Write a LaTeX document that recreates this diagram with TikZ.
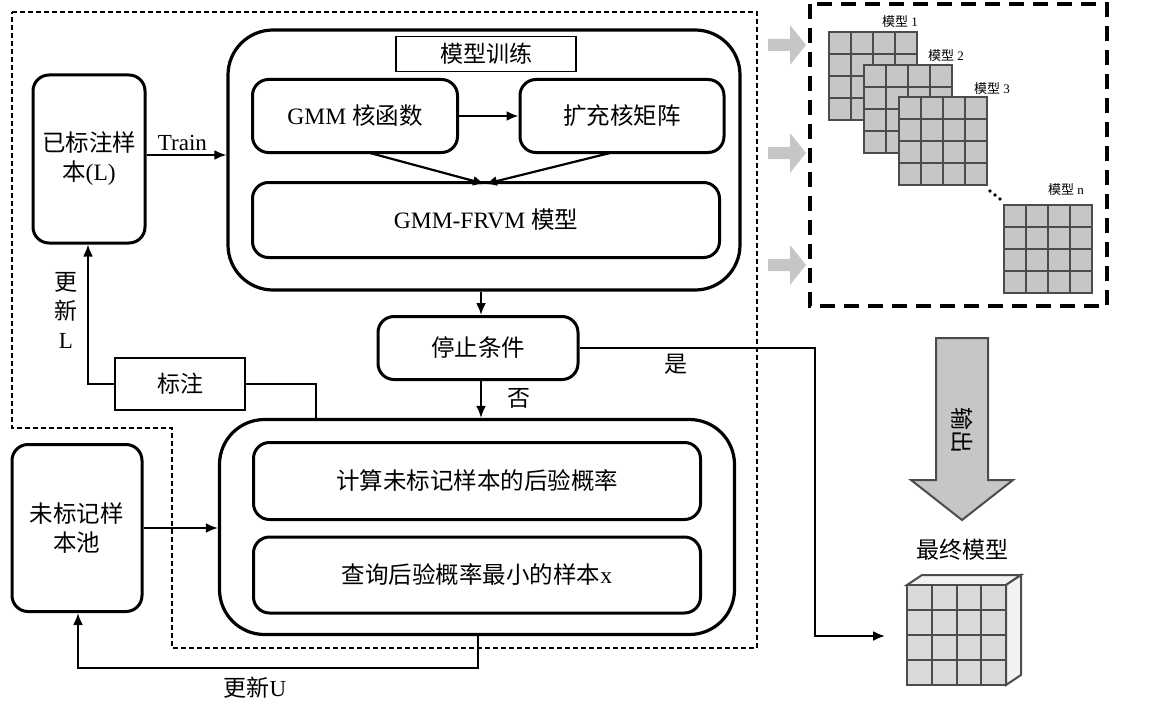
\documentclass[tikz,border=0pt]{standalone}
\usepackage{fontspec}
\setmainfont{Liberation Serif}
\newfontfamily\cjk{Noto Sans CJK SC}
\usetikzlibrary{arrows.meta}
\begin{document}
\begin{tikzpicture}[x=1pt,y=-1pt,
  box/.style={draw,line width=3pt,rounded corners=16pt,align=center,font=\fontsize{23.5}{29}\selectfont},
  big/.style={draw,line width=3.2pt,rounded corners=45pt},
  conn/.style={line width=2.2pt,-{Latex[length=12pt,width=10pt]}},
  line/.style={line width=2.2pt},
  lbl/.style={font=\fontsize{23}{29}\selectfont},
  cell/.style={fill=gray!45,draw=black!70,line width=2pt},
  garrow/.style={fill=gray!45,draw=none}]
\useasboundingbox (0,0) rectangle (1176,701);
% dashed regions
\draw[line width=1.8pt,dash pattern=on 5pt off 3pt] (12,12) -- (757,12) -- (757,648) -- (172,648) -- (172,428) -- (12,428) -- cycle;
\draw[line width=3.2pt,dash pattern=on 15pt off 9pt] (810,4) rectangle (1107,306);
% containers
\node[big,minimum width=512pt,minimum height=260pt] (train) at (484,160) {};
\node[draw,line width=1.8pt,minimum width=180pt,minimum height=35pt,lbl] (title) at (486,54) {\cjk 模型训练};
\node[box,minimum width=205pt,minimum height=73pt] (gmm) at (355,116) {GMM {\cjk 核函数}};
\node[box,minimum width=204pt,minimum height=73pt] (ext) at (622,116) {\cjk 扩充核矩阵};
\node[box,minimum width=467pt,minimum height=75pt] (frvm) at (486,220) {GMM-FRVM {\cjk 模型}};
\draw[conn] (gmm) -- (ext);
\coordinate (m) at (485,184);
\draw[conn] (370,153) -- (m);
\draw[conn] (610,153) -- (m);
\node[box,minimum width=112pt,minimum height=168pt] (L) at (89,159) {{\cjk 已标注样}\\{\cjk 本}(L)};
\draw[conn] (L.east |- 0,155) -- node[above,lbl,pos=0.45] {Train} (train.west |- 0,155);
\node[box,minimum width=200pt,minimum height=63pt] (stop) at (478,348) {\cjk 停止条件};
\draw[conn] (train.south -| 481,0) -- (stop.north -| 481,0);
\node[big,minimum width=515pt,minimum height=215pt] (query) at (477,527) {};
\node[box,minimum width=447pt,minimum height=77pt] (calc) at (477,481) {\cjk 计算未标记样本的后验概率};
\node[box,minimum width=447pt,minimum height=76pt] (find) at (477,575) {{\cjk 查询后验概率最小的样本}x};
\draw[conn] (stop.south -| 481,0) -- (query.north -| 481,0);
\node[lbl] at (519,398) {\cjk 否};
\node[draw,line width=2.2pt,minimum width=130pt,minimum height=52pt,lbl] (mark) at (180,384) {\cjk 标注};
\draw[line] (mark.east) -- (316,384) -- (query.north -| 316,0);
\draw[conn] (mark.west) -- (88,384) -- (L.south -| 88,0);
\node[lbl,align=center] at (66,310) {{\cjk 更}\\{\cjk 新}\\L};
\node[box,minimum width=130pt,minimum height=167pt] (U) at (77,528) {{\cjk 未标记样}\\{\cjk 本池}};
\draw[conn] (U.east |- 0,528) -- (query.west |- 0,528);
\draw[conn] (query.south -| 478,0) -- (478,668) -- (78,668) -- (U.south -| 78,0);
\node[lbl] at (255,688) {{\cjk 更新}U};
% final model
\coordinate (fm) at (885,636);
\draw[conn] (stop.east) -- (815,348) -- (815,636) -- (fm);
\node[lbl] at (676,364) {\cjk 是};
% grey arrows
\foreach \y in {45,153,265}
  \fill[gray!45] (768,\y-6) -- (790,\y-6) -- (790,\y-20) -- (806,\y) -- (790,\y+20) -- (790,\y+6) -- (768,\y+6) -- cycle;
% grids
\foreach \gx/\gy/\t/\lx/\ly in {829/32/1/900/22, 864/65/2/946/56, 899/97/3/992/89, 1004/205/n/1066/190}{
  \fill[white] (\gx,\gy) rectangle ++(88,88);
  \foreach \i in {0,...,3}\foreach \j in {0,...,3}
    \draw[cell] (\gx+22*\i,\gy+22*\j) rectangle ++(22,22);
  \node[font=\fontsize{13}{15}\selectfont] at (\lx,\ly) {{\cjk 模型} \t};
}
\foreach \d in {0,1,2} \fill (990+5*\d,191+4*\d) circle (1.8pt);
% output arrow
\draw[line width=2pt,draw=black!70,fill=gray!45] (936,338) -- (988,338) -- (988,480) -- (1013,480) -- (962,520) -- (911,480) -- (936,480) -- cycle;
\node[lbl,rotate=-90] at (962,430) {\cjk 输出};
\node[lbl] (final) at (962,550) {\cjk 最终模型};
\draw[line width=2pt,draw=black!70,fill=gray!10] (907,585) -- (922,575) -- (1021,575) -- (1006,585) -- cycle;
\draw[line width=2pt,draw=black!70,fill=gray!10] (1006,585) -- (1021,575) -- (1021,675) -- (1006,685) -- cycle;
\foreach \i in {0,...,3}\foreach \j in {0,...,3}
  \draw[line width=2pt,draw=black!70,fill=gray!30] (907+24.75*\i,585+25*\j) rectangle ++(24.75,25);
\end{tikzpicture}
\end{document}
